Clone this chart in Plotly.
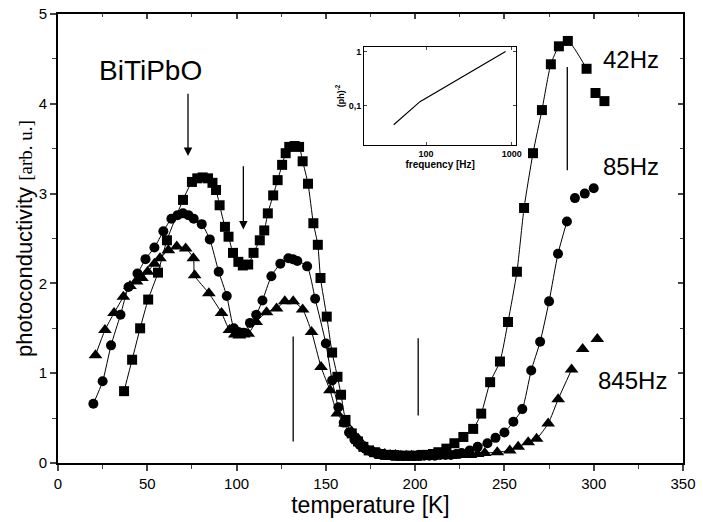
import plotly.graph_objects as go

# ---------------- data ----------------
T_42 = [37, 41.5, 46, 50.5, 56, 61, 70, 75, 78, 81, 84, 86.5, 88.5, 90.5, 93.5, 95.5, 98, 101,
        103.5, 106.5, 109.5, 113, 115.5, 117.5, 120.5, 123, 125.5, 127.5, 129.5, 132.5, 135,
        137, 140, 143, 145.5, 147, 150.5, 153.5, 156.5, 158.5, 161, 164.5, 168, 171, 174, 177,
        180, 183, 186, 189, 192, 195, 198, 201, 204, 207, 210, 213, 217.5, 222, 227, 232.5,
        237, 242, 247.5, 252, 257, 261, 266, 271, 276, 280.5, 285.5, 296, 301, 306]
V_42 = [0.80, 1.15, 1.50, 1.82, 2.12, 2.48, 2.93, 3.13, 3.17, 3.18, 3.17, 3.12, 3.04, 2.87, 2.63,
        2.52, 2.34, 2.24, 2.20, 2.21, 2.34, 2.48, 2.59, 2.78, 2.98, 3.15, 3.32, 3.45, 3.52, 3.53,
        3.52, 3.36, 3.11, 2.67, 2.43, 2.06, 1.63, 1.23, 0.96, 0.76, 0.48, 0.33, 0.24, 0.18, 0.14,
        0.12, 0.10, 0.09, 0.09, 0.08, 0.08, 0.08, 0.08, 0.08, 0.09, 0.09, 0.10, 0.12, 0.16, 0.22,
        0.29, 0.38, 0.55, 0.90, 1.13, 1.57, 2.13, 2.84, 3.45, 3.93, 4.44, 4.64, 4.70, 4.39, 4.12,
        4.03]

T_85 = [19.8, 25, 29.7, 35, 39.5, 44.5, 49, 54, 59, 63.5, 67, 70, 73, 76, 80.5, 85, 90, 94.5,
        98.5, 101, 104, 107.5, 111, 114.5, 119.5, 124.5, 129, 131.5, 134, 139.5, 144, 150, 153.5,
        157, 160, 163, 166, 169, 172, 175, 178, 181, 184, 187, 190, 193, 196, 199, 202, 205, 208,
        211, 214, 217, 220, 223, 226, 230.5, 235, 240.5, 245, 250, 255, 260, 265, 270, 275, 280,
        285, 289.5, 295, 300]
V_85 = [0.66, 0.91, 1.31, 1.65, 1.96, 2.11, 2.27, 2.40, 2.58, 2.72, 2.76, 2.78, 2.76, 2.72, 2.66,
        2.49, 2.13, 1.86, 1.50, 1.46, 1.45, 1.56, 1.65, 1.81, 2.08, 2.22, 2.28, 2.27, 2.25, 2.19,
        1.83, 1.33, 0.92, 0.62, 0.45, 0.34, 0.26, 0.20, 0.16, 0.13, 0.11, 0.10, 0.09, 0.09, 0.09,
        0.08, 0.08, 0.08, 0.08, 0.08, 0.08, 0.08, 0.09, 0.09, 0.09, 0.10, 0.11, 0.14, 0.18, 0.22,
        0.28, 0.34, 0.46, 0.60, 1.03, 1.35, 1.80, 2.33, 2.69, 2.95, 3.00, 3.06]

T_845 = [21, 26.3, 31.4, 36.6, 40.3, 44, 47, 50.2, 54, 57.1, 61.8, 66.5, 71.5, 75.8, 76.5, 84.5,
         91.6, 96, 99, 101.5, 104, 106.5, 111, 116.8, 122.4, 127, 131.7, 137, 142, 147.3, 152.3,
         156.4, 160.7, 164.4, 168.1, 171.9, 176.5, 180, 183, 186, 189, 192, 195, 198, 201, 204,
         207, 210, 213, 216, 219, 222, 225, 228, 231, 235, 239, 246, 253, 257.7, 263.3, 268,
         274.5, 280.1, 287.6, 293.8, 302]
V_845 = [1.20, 1.48, 1.67, 1.85, 1.97, 2.02, 2.06, 2.13, 2.22, 2.28, 2.37, 2.41, 2.39, 2.28, 2.09,
         1.89, 1.67, 1.48, 1.43, 1.42, 1.43, 1.44, 1.57, 1.68, 1.72, 1.80, 1.80, 1.71, 1.46, 1.07,
         0.81, 0.55, 0.44, 0.35, 0.27, 0.18, 0.13, 0.11, 0.10, 0.09, 0.09, 0.08, 0.08, 0.08, 0.08,
         0.08, 0.08, 0.08, 0.08, 0.08, 0.08, 0.08, 0.09, 0.09, 0.09, 0.10, 0.11, 0.12, 0.14, 0.18,
         0.23, 0.27, 0.44, 0.71, 1.04, 1.27, 1.38]

INSET_F = [42, 85, 845]
INSET_V = [0.045, 0.12, 1.0]

X_TICKS = [0, 50, 100, 150, 200, 250, 300, 350]
Y_TICKS = [0, 1, 2, 3, 4, 5]

SANS = "Liberation Sans, Arial, sans-serif"
fig = go.Figure()

series = [
    (T_42, V_42, "square", 10, 2),
    (T_85, V_85, "circle", 10, 3),
    (T_845, V_845, "triangle-up", 12, 2),
]
for T, V, sym, size, drop in series:
    fig.add_trace(go.Scatter(x=T[:len(T) - drop], y=V[:len(V) - drop], mode="lines",
                             line=dict(color="black", width=1, shape="spline", smoothing=0.6),
                             hoverinfo="skip", showlegend=False))
    fig.add_trace(go.Scatter(x=T, y=V, mode="markers",
                             marker=dict(symbol=sym, size=size, color="black", line=dict(width=0)),
                             showlegend=False))

# inset
fig.add_trace(go.Scatter(x=INSET_F, y=INSET_V, mode="lines", xaxis="x2", yaxis="y2",
                         line=dict(color="black", width=1.2), showlegend=False))
# dummy trace for mirrored frame axes
fig.add_trace(go.Scatter(x=[0], y=[0], xaxis="x3", yaxis="y3", mode="markers",
                         marker=dict(opacity=0), hoverinfo="skip", showlegend=False))

fig.update_layout(
    width=703, height=522,
    margin=dict(l=58, r=20, t=14, b=59),
    paper_bgcolor="white", plot_bgcolor="white",
    font=dict(family=SANS, color="black"),
    xaxis=dict(range=[0, 350], tickvals=X_TICKS, ticks="outside", ticklen=6, tickwidth=1.5,
               showline=True, linewidth=1.8, linecolor="black", showgrid=False, zeroline=False,
               automargin=False, tickfont=dict(size=15, family=SANS),
               minor=dict(dtick=25, tick0=0, ticks="outside", ticklen=4, tickwidth=1.2,
                          showgrid=False),
               title=dict(text="temperature [K]", font=dict(size=23, family=SANS), standoff=0)),
    yaxis=dict(range=[0, 5], tickvals=Y_TICKS, ticks="outside", ticklen=6, tickwidth=1.5,
               showline=True, linewidth=1.8, linecolor="black", showgrid=False, zeroline=False,
               automargin=False, tickfont=dict(size=15, family=SANS),
               minor=dict(dtick=0.5, tick0=0, ticks="outside", ticklen=4, tickwidth=1.2,
                          showgrid=False),
               title=dict(text="photoconductivity <span style=\"font-family:'Liberation Serif';font-size:19px\">[arb. u.]</span>",
                          font=dict(size=22, family=SANS), standoff=0)),
    xaxis3=dict(range=[0, 350], overlaying="x", anchor="y3", side="top", tickvals=X_TICKS,
                ticks="inside", ticklen=5, tickwidth=1.5, showticklabels=False, showline=True,
                linewidth=1.8, linecolor="black", showgrid=False, zeroline=False, automargin=False,
                minor=dict(dtick=25, tick0=0, ticks="inside", ticklen=3, tickwidth=1.2)),
    yaxis3=dict(range=[0, 5], overlaying="y", anchor="x3", side="right", tickvals=Y_TICKS,
                ticks="inside", ticklen=5, tickwidth=1.5, showticklabels=False, showline=True,
                linewidth=1.8, linecolor="black", showgrid=False, zeroline=False, automargin=False,
                minor=dict(dtick=0.5, tick0=0, ticks="inside", ticklen=3, tickwidth=1.2)),
    xaxis2=dict(type="log", domain=[0.49, 0.733], anchor="y2", range=[1.28, 3.05],
                tickvals=[100, 1000], ticktext=["100", "1000"], ticks="inside", ticklen=3,
                showline=True, mirror="allticks", linewidth=1.2, linecolor="black",
                showgrid=False, zeroline=False, automargin=False,
                tickfont=dict(size=9, family=SANS, weight="bold"),
                title=dict(text="frequency [Hz]", font=dict(size=10, family=SANS, weight="bold"),
                           standoff=2)),
    yaxis2=dict(type="log", domain=[0.708, 0.927], anchor="x2", range=[-1.72, 0.087],
                tickvals=[0.1, 1], ticktext=["0,1", "1"], ticks="inside", ticklen=3,
                showline=True, mirror="allticks", linewidth=1.2, linecolor="black",
                showgrid=False, zeroline=False, automargin=False,
                tickfont=dict(size=9, family=SANS, weight="bold"),
                title=dict(text="(ph)<sup>-2</sup>", font=dict(size=9, family=SANS, weight="bold"),
                           standoff=2)),
)

# text labels
for txt, x, y, s in [("BiTiPbO", 52, 4.37, 28), ("42Hz", 321, 4.49, 24),
                     ("85Hz", 321, 3.30, 24), ("845Hz", 321.7, 0.92, 24)]:
    fig.add_annotation(text=txt, x=x, y=y, xref="x", yref="y", showarrow=False,
                       font=dict(size=s, family=SANS, color="black"))

# arrows
for x, y0, y1 in [(72.8, 4.13, 3.42), (103.8, 3.32, 2.60)]:
    fig.add_annotation(x=x, y=y1, ax=x, ay=y0, xref="x", yref="y", axref="x", ayref="y",
                       text="", showarrow=True, arrowhead=2, arrowsize=1.3, arrowwidth=1.3,
                       arrowcolor="black")

# vertical marker lines
for x, y0, y1 in [(131.7, 0.24, 1.41), (201.7, 0.53, 1.39), (285.2, 3.26, 4.41)]:
    fig.add_shape(type="line", x0=x, x1=x, y0=y0, y1=y1, xref="x", yref="y",
                  line=dict(color="black", width=1.3))

fig.write_html("out.html", config={"displayModeBar": False},
               post_script="document.body.style.margin='0';document.body.style.padding='0';")
